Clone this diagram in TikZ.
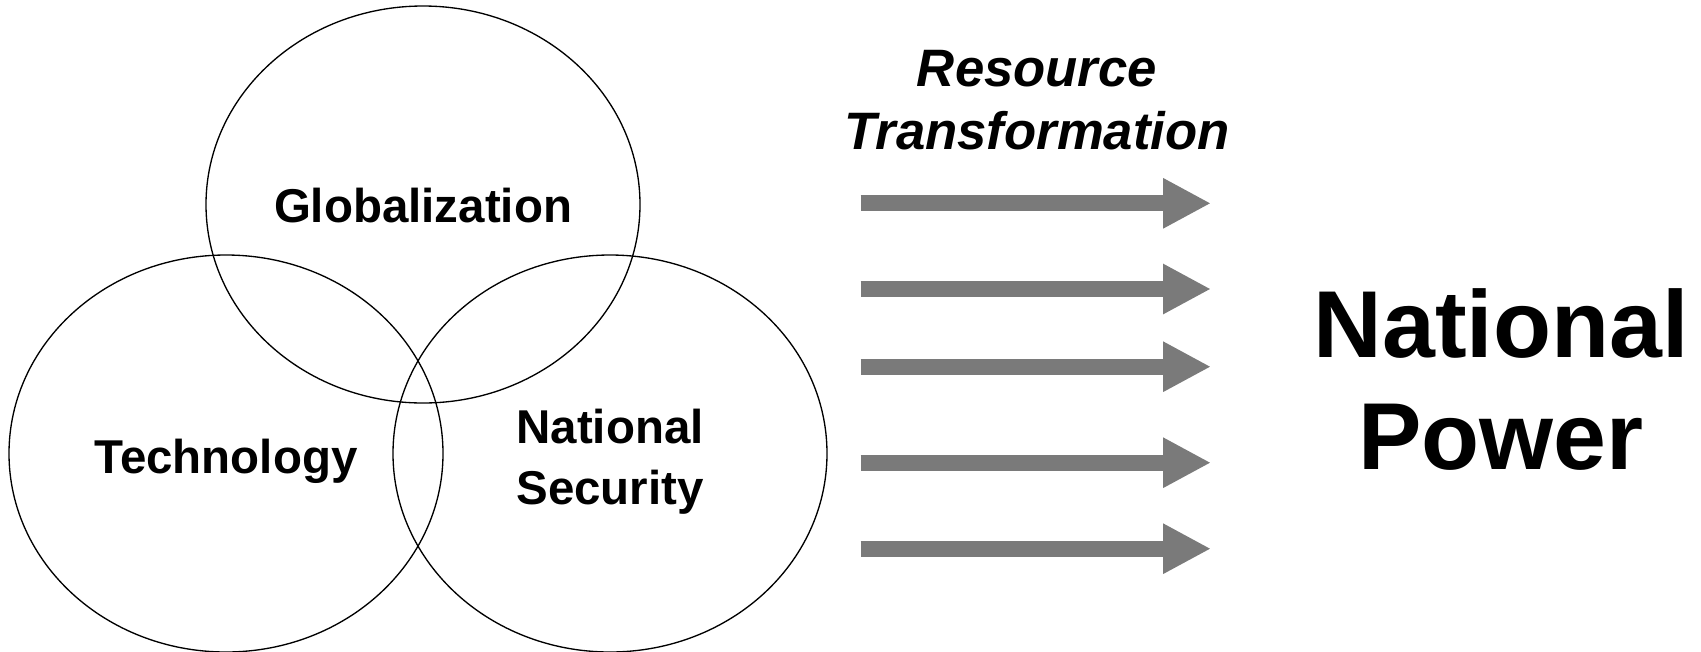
\documentclass[tikz,border=0pt]{standalone}
\usepackage{fontspec}
\setmainfont{Liberation Sans}
\usetikzlibrary{shapes.geometric,arrows.meta}
\definecolor{arrowgray}{RGB}{122,122,122}
\begin{document}
\begin{tikzpicture}[x=0.75pt,y=-0.75pt,
  circ/.style={ellipse, draw=black, line width=1pt,
    minimum width=325.5pt, minimum height=297.75pt, inner sep=0pt},
  term/.style={font=\fontsize{35.6}{45.5}\selectfont\bfseries, align=center},
  flow/.style={draw=arrowgray, line width=12pt,
    -{Triangle[length=36pt,width=35.25pt]}},
  caption/.style={font=\fontsize{39.5}{47}\selectfont\bfseries\itshape, align=center},
  goal/.style={font=\fontsize{71.3}{84}\selectfont\bfseries, align=center}]
\useasboundingbox (0,0) rectangle (1701,651);

% three overlapping forces
\node[circ] (glob) at (423,204.5) {};
\node[circ] (tech) at (226,453.5) {};
\node[circ] (sec)  at (610,453.5) {};
\node[term] (globtxt) at (423,206) {Globalization};
\node[term] (techtxt) at (226,461) {Technology};
\node[term] (sectxt)  at (610,462) {National\\Security};

% transformation arrows
\node[caption] (res) at (1037,100) {Resource\\Transformation};
\foreach \i/\y in {1/203.3,2/289,3/366.7,4/462.7,5/548.7}{
  \coordinate (s\i) at (860.7,\y);
  \coordinate (e\i) at (1211,\y);
  \draw[flow] (s\i) -- (e\i);
}

% outcome
\node[goal] (power) at (1501,380) {National\\Power};
\end{tikzpicture}
\end{document}
